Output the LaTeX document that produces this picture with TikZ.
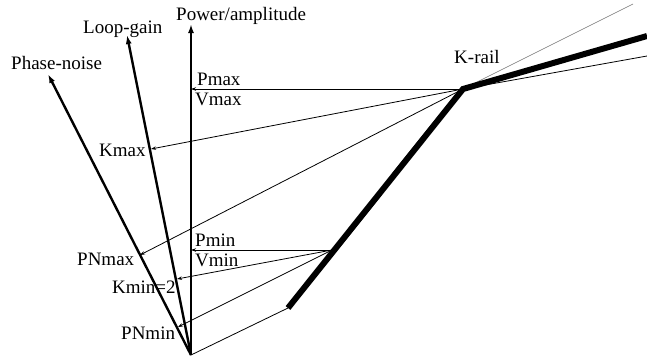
\documentclass[tikz,border=0pt]{standalone}
\usepackage{fontspec}
\setmainfont{Liberation Serif}
\usetikzlibrary{arrows.meta}
\begin{document}
\begin{tikzpicture}[x=1pt,y=-1pt,
  axis/.style={line width=2.4pt,-{Latex[length=9pt,width=6pt]}},
  proj/.style={line width=0.8pt,-{Stealth[length=5pt,width=3.5pt]}},
  guide/.style={line width=0.8pt},
  rail/.style={line width=6pt,line join=miter},
  lbl/.style={anchor=base west,inner sep=0pt,font=\fontsize{19}{22}\selectfont}]
\useasboundingbox (0,0) rectangle (647,360);
% coordinates
\coordinate (O) at (191,355);
\coordinate (PAtip) at (191,24);
\coordinate (LGtip) at (127,35);
\coordinate (PNtip) at (48,74);
\coordinate (knee) at (463,89);
\coordinate (railTop) at (647,36);
\coordinate (railBot) at (288,308);
\coordinate (mid) at (332,250);
\coordinate (Pmaxp) at (191,89);
\coordinate (Kmaxp) at (151,149);
\coordinate (PNmaxp) at (140,255);
\coordinate (Pminp) at (191,250);
\coordinate (Kminp) at (177,279);
\coordinate (PNminp) at (178,327);
\coordinate (far1) at (633,4);
\coordinate (far2) at (647,56);
% projection lines
\draw[proj] (knee) -- (Pmaxp);
\draw[proj] (knee) -- (Kmaxp);
\draw[proj] (knee) -- (PNmaxp);
\draw[proj] (mid) -- (Pminp);
\draw[proj] (mid) -- (Kminp);
\draw[proj] (mid) -- (PNminp);
\draw[guide] (railBot) -- (O);
\draw[line width=0.6pt,black!55] (knee) -- (far1);
\draw[guide] (knee) -- (far2);
% axes
\draw[axis] (O) -- (PAtip);
\draw[axis] (O) -- (LGtip);
\draw[axis] (O) -- (PNtip);
% rail
\draw[rail] (railBot) -- (knee) -- (railTop);
% labels
\node[lbl] (lPA) at (176,20) {Power/amplitude};
\node[lbl] (lLG) at (83,33) {Loop-gain};
\node[lbl] (lPN) at (11,69) {Phase-noise};
\node[lbl] (lPmax) at (197,85) {Pmax};
\node[lbl] (lVmax) at (195,105) {Vmax};
\node[lbl] (lKmax) at (99,156) {Kmax};
\node[lbl] (lKrail) at (454,63) {K-rail};
\node[lbl] (lPmin) at (195,246) {Pmin};
\node[lbl] (lVmin) at (195,266) {Vmin};
\node[lbl] (lPNmax) at (77,265) {PNmax};
\node[lbl] (lKmin) at (112,293) {Kmin=2};
\node[lbl] (lPNmin) at (121,339) {PNmin};
\end{tikzpicture}
\end{document}
